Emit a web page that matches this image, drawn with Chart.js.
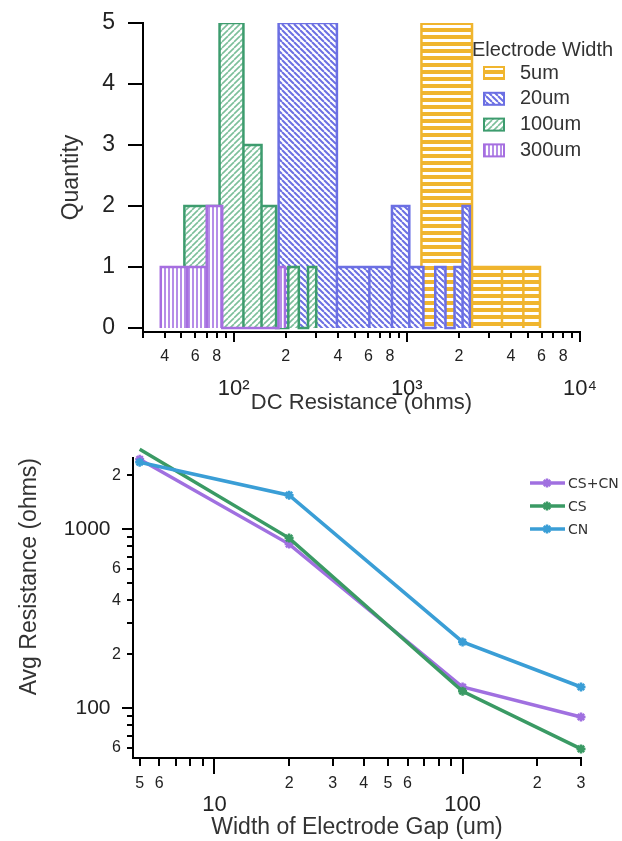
<!DOCTYPE html>
<html>
<head>
<meta charset="utf-8">
<script src="https://cdn.jsdelivr.net/npm/chart.js@4.4.1/dist/chart.umd.min.js"></script>
<style>
  html, body { margin: 0; padding: 0; background: #fff; }
  canvas { display: block; }
</style>
</head>
<body>
<canvas id="hist" width="622" height="420"></canvas>
<canvas id="avg" width="622" height="421"></canvas>
<script>
// histogram: bin edges (ohms) and counts for each electrode width
const widthLabels = ['5um', '20um', '100um', '300um'];
const edges5um = [1215, 2380, 3545, 4710, 5875];
const counts5um = [5, 1, 1, 1];
const edges20um = [182, 395, 608, 821, 1034, 1247, 1460, 1673, 1886, 2099, 2312];
const counts20um = [5, 1, 1, 2, 1, 0, 1, 0, 1, 2];
const edges100um = [52, 83, 114, 145, 176, 207, 238, 269, 300];
const counts100um = [2, 5, 3, 2, 0, 1, 0, 1];
const edges300um = [38, 54, 70, 86, 102, 118, 134, 150, 166, 182, 198];
const counts300um = [1, 1, 2, 0, 0, 0, 0, 0, 0, 1];

const histXTicks = [30, 40, 50, 60, 70, 80, 90,
  100, 200, 300, 400, 500, 600, 700, 800, 900,
  1000, 2000, 3000, 4000, 5000, 6000, 7000, 8000, 9000, 10000];
const histXLabels = ['', '4', '', '6', '', '8', '',
  '10²', '2', '', '4', '', '6', '', '8', '',
  '10³', '2', '', '4', '', '6', '', '8', '', '10⁴'];
const histXMajor = [100, 1000, 10000];
const histYTicks = [0, 1, 2, 3, 4, 5];

// avg resistance vs gap width
const gapWidths = [5, 20, 100, 300];
const seriesLabels = ['CS+CN', 'CS', 'CN'];
const resCSCN = [2460, 825, 131, 89];
const resCS = [2800, 891, 124, 59];
const resCN = [2366, 1549, 234, 131];

const avgXTicks = [5, 6, 7, 8, 9, 10, 20, 30, 40, 50, 60, 70, 80, 90, 100, 200, 300];
const avgXLabels = ['5', '6', '', '', '', '10', '2', '3', '4', '5', '6', '', '', '', '100', '2', '3'];
const avgXMajor = [10, 100];
const avgYTicks = [60, 70, 80, 90, 100, 200, 300, 400, 500, 600, 700, 800, 900, 1000, 2000];
const avgYLabels = ['6', '', '', '', '100', '2', '', '4', '', '6', '', '', '', '1000', '2'];
const avgYMajor = [100, 1000];

const FONT = '"Liberation Sans", Arial, sans-serif';
const TEXT = '#333';
Chart.defaults.font.family = FONT;
Chart.defaults.color = TEXT;

function makePattern(ctx, kind, color, lw) {
  const s = kind === 'horiz' ? 7 : kind === 'vert' ? 4 : 6;
  const c = document.createElement('canvas');
  c.width = s; c.height = s;
  const g = c.getContext('2d');
  g.fillStyle = '#fff';
  g.fillRect(0, 0, s, s);
  g.fillStyle = color;
  g.strokeStyle = color;
  if (kind === 'horiz') {
    g.fillRect(0, 0, s, 4);
  } else if (kind === 'vert') {
    g.fillRect(0, 0, lw, s);
  } else {
    g.lineWidth = lw;
    for (let k = -1; k <= 1; k++) {
      g.beginPath();
      if (kind === 'back') { g.moveTo(k * s, 0); g.lineTo(k * s + s, s); }
      else { g.moveTo(k * s, s); g.lineTo(k * s + s, 0); }
      g.stroke();
    }
  }
  return ctx.createPattern(c, 'repeat');
}

// outline of a histogram as a list of points: up, across, down for each bin
function histPoints(edges, counts) {
  const pts = [];
  counts.forEach((c, i) => {
    pts.push({ x: edges[i], y: 0 }, { x: edges[i], y: c },
             { x: edges[i + 1], y: c }, { x: edges[i + 1], y: 0 });
  });
  return pts;
}

// tick marks drawn from the scales, long for decades and short otherwise
const tickMarks = {
  id: 'tickMarks',
  afterDraw(chart, args, opts) {
    const ctx = chart.ctx;
    ctx.save();
    ctx.strokeStyle = '#000';
    ctx.lineWidth = 2;
    Object.values(chart.scales).forEach(scale => {
      const cfg = opts[scale.id];
      if (!cfg) return;
      scale.ticks.forEach(t => {
        const len = cfg.major.includes(t.value) ? cfg.long : cfg.short;
        const p = Math.round(scale.getPixelForValue(t.value));
        ctx.beginPath();
        if (scale.isHorizontal()) {
          ctx.moveTo(p, scale.top); ctx.lineTo(p, scale.top + len);
        } else {
          ctx.moveTo(scale.right, p); ctx.lineTo(scale.right - len, p);
        }
        ctx.stroke();
      });
    });
    ctx.restore();
  }
};

const histLegend = {
  id: 'histLegend',
  afterDraw(chart) {
    const ctx = chart.ctx;
    ctx.save();
    ctx.font = '20px ' + FONT;
    ctx.textBaseline = 'middle';
    ctx.fillStyle = TEXT;
    ctx.fillText('Electrode Width', 472, 50);
    chart.data.datasets.forEach((ds, i) => {
      const y = 73 + i * 25.8;
      ctx.fillStyle = ds.backgroundColor;
      ctx.fillRect(484, y - 6, 20, 12);
      ctx.strokeStyle = ds.borderColor;
      ctx.lineWidth = 2;
      ctx.strokeRect(484, y - 6, 20, 12);
      ctx.fillStyle = TEXT;
      ctx.fillText(ds.label, 520, y);
    });
    ctx.restore();
  }
};

const lineLegend = {
  id: 'lineLegend',
  afterDraw(chart) {
    const ctx = chart.ctx;
    ctx.save();
    ctx.font = '14px "DejaVu Sans", Verdana, sans-serif';
    ctx.textBaseline = 'middle';
    chart.data.datasets.forEach((ds, i) => {
      const y = 63 + i * 23;
      ctx.strokeStyle = ds.borderColor;
      ctx.lineWidth = 3.5;
      ctx.beginPath(); ctx.moveTo(530, y); ctx.lineTo(565, y); ctx.stroke();
      ctx.lineWidth = 2.5;
      Chart.helpers.drawPoint(ctx, { pointStyle: 'star', radius: 4.5, rotation: 0, borderWidth: 2.5 }, 547, y);
      ctx.fillStyle = TEXT;
      ctx.fillText(ds.label, 568, y + 1);
    });
    ctx.restore();
  }
};

// invisible tick space so the label gap does not add to the vertical padding
const hiddenTicks = len => ({ display: true, drawOnChartArea: false, drawTicks: true, tickLength: len, tickColor: 'rgba(0,0,0,0)' });

// ---------- top: histogram ----------
const hctx = document.getElementById('hist').getContext('2d');
const histColors = ['#f0b52e', '#6b6fe3', '#3d9c6e', '#a66ee0'];
const histPatterns = [
  makePattern(hctx, 'horiz', '#f0b52e', 0),
  makePattern(hctx, 'back', '#6b6fe3', 2),
  makePattern(hctx, 'fwd', '#7cbf9a', 1.6),
  makePattern(hctx, 'vert', '#b68de8', 2)
];
const histEdges = [edges5um, edges20um, edges100um, edges300um];
const histCounts = [counts5um, counts20um, counts100um, counts300um];

new Chart(hctx, {
  type: 'line',
  data: {
    datasets: widthLabels.map((lab, i) => ({
      label: lab,
      data: histPoints(histEdges[i], histCounts[i]),
      borderColor: histColors[i],
      backgroundColor: histPatterns[i],
      borderWidth: 2.5,
      fill: 'origin',
      pointRadius: 0,
      tension: 0,
      order: 4 - i
    }))
  },
  options: {
    responsive: false,
    animation: false,
    devicePixelRatio: 1,
    layout: { padding: { left: 58, top: 23, right: 42, bottom: 4 } },
    plugins: {
      legend: { display: false },
      tooltip: { enabled: false },
      tickMarks: {
        x: { major: histXMajor, long: 10, short: 6 },
        y: { major: histYTicks, long: 15, short: 15 }
      }
    },
    scales: {
      x: {
        type: 'logarithmic',
        min: 30, max: 10000,
        afterBuildTicks: s => { s.ticks = histXTicks.map(v => ({ value: v })); },
        afterFit: s => { s.height = 84; },
        grid: { display: false },
        border: { color: '#000', width: 2 },
        ticks: {
          autoSkip: false, maxRotation: 0, minRotation: 0, padding: 7, color: '#222',
          callback: (v, i) => histXLabels[i],
          font: c => (c.tick && histXMajor.includes(c.tick.value)) ? { size: 22, lineHeight: 3.8 } : { size: 16 }
        },
        title: { display: true, text: 'DC Resistance (ohms)', font: { size: 22 }, padding: 0, color: TEXT }
      },
      y: {
        min: -0.066, max: 5,
        afterBuildTicks: s => { s.ticks = histYTicks.map(v => ({ value: v })); },
        afterFit: s => { s.width = 85; },
        grid: hiddenTicks(19),
        border: { color: '#000', width: 2 },
        ticks: { padding: 9, font: { size: 23 }, color: '#222' },
        title: { display: true, text: 'Quantity', font: { size: 23 }, padding: 0, color: TEXT }
      }
    }
  },
  plugins: [tickMarks, histLegend]
});

// ---------- bottom: avg resistance ----------
const actx = document.getElementById('avg').getContext('2d');
const lineColors = ['#a070e0', '#3a9a64', '#3a9ed6'];
const lineSeries = [resCSCN, resCS, resCN];

new Chart(actx, {
  type: 'line',
  data: {
    datasets: seriesLabels.map((lab, i) => ({
      label: lab,
      data: gapWidths.map((w, j) => ({ x: w, y: lineSeries[i][j] })),
      borderColor: lineColors[i],
      backgroundColor: lineColors[i],
      borderWidth: 3.5,
      pointStyle: 'star',
      pointRadius: 4.5,
      pointBorderWidth: 2.5,
      tension: 0,
      clip: false,
      order: 2 - i
    }))
  },
  options: {
    responsive: false,
    animation: false,
    devicePixelRatio: 1,
    layout: { padding: { left: 16, top: 38, right: 41, bottom: 0 } },
    plugins: {
      legend: { display: false },
      tooltip: { enabled: false },
      tickMarks: {
        x: { major: avgXMajor, long: 16, short: 8 },
        y: { major: avgYMajor, long: 11, short: 6 }
      }
    },
    scales: {
      x: {
        type: 'logarithmic',
        min: 4.7, max: 300,
        afterBuildTicks: s => { s.ticks = avgXTicks.map(v => ({ value: v })); },
        afterFit: s => { s.height = 83; },
        grid: { display: false },
        border: { color: '#000', width: 2 },
        ticks: {
          autoSkip: false, maxRotation: 0, minRotation: 0, padding: 8, color: '#222',
          callback: (v, i) => avgXLabels[i],
          font: c => (c.tick && avgXMajor.includes(c.tick.value)) ? { size: 22, lineHeight: 2.82 } : { size: 16 }
        },
        title: { display: true, text: 'Width of Electrode Gap (um)', font: { size: 23 }, padding: 0, color: TEXT }
      },
      y: {
        type: 'logarithmic',
        min: 52.5, max: 2500,
        afterBuildTicks: s => { s.ticks = avgYTicks.map(v => ({ value: v })); },
        afterFit: s => { s.width = 117; },
        grid: hiddenTicks(7),
        border: { color: '#000', width: 2 },
        ticks: {
          autoSkip: false, padding: 5, color: '#222',
          // decade labels sit further from the axis than the minor ones
          callback: (v, i) => avgYLabels[i] + (avgYMajor.includes(v) ? '\u2002' : ''),
          font: c => (c.tick && avgYMajor.includes(c.tick.value)) ? { size: 21 } : { size: 16 }
        },
        title: { display: true, text: 'Avg Resistance (ohms)', align: 'end', font: { size: 23 }, padding: 0, color: TEXT }
      }
    }
  },
  plugins: [tickMarks, lineLegend]
});
</script>
</body>
</html>
